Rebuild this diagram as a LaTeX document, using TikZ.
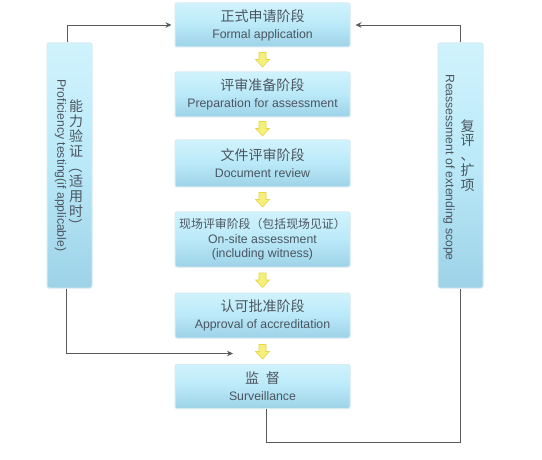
\documentclass[tikz,border=0pt]{standalone}
\usepackage{fontspec}
\usepackage{graphicx}
\setmainfont{Liberation Sans}
\newfontfamily\zh{Noto Sans CJK SC}
\usetikzlibrary{arrows.meta}
\definecolor{txt}{HTML}{4B5560}
\definecolor{boxtop}{HTML}{D0F3FD}
\definecolor{boxmid}{HTML}{BAE9F8}
\definecolor{boxbot}{HTML}{9DD2E7}
\definecolor{boxedge}{HTML}{D5EBF2}
\definecolor{lne}{HTML}{5A5A5A}
\definecolor{yfill}{HTML}{F6F07A}
\definecolor{yedge}{HTML}{E3D64A}
\begin{document}
\begin{tikzpicture}[x=1pt,y=-1pt,
  box/.style={draw=boxedge, line width=1pt, rounded corners=2pt,
    top color=boxtop, bottom color=boxbot, middle color=boxmid,
    text=txt, align=center, inner sep=0pt,
    font=\fontsize{12.3}{17}\selectfont},
  hbox/.style={box, minimum width=175pt},
  vbox/.style={box, minimum width=45pt, minimum height=245pt},
  zhl/.style={text=txt, align=center, inner sep=0pt, font=\zh\fontsize{14}{14.9}\selectfont},
  enl/.style={text=txt, inner sep=0pt, rotate=-90, font=\fontsize{12.2}{15}\selectfont},
  conn/.style={draw=lne, line width=0.8pt},
  arr/.style={conn, -{Stealth[length=6pt,width=5.5pt]}},
  yarrow/.pic={\path[fill=yfill, draw=yedge, line width=0.6pt]
    (-3.5,-7) -- (3.5,-7) -- (3.5,0) -- (7,0) -- (0,7.5) -- (-7,0) -- (-3.5,0) -- cycle;}
]
\path[fill=white] (0,0) rectangle (542,460);
\useasboundingbox (0,0) rectangle (542,460);

\node[hbox, minimum height=44pt] (b1) at (262.5,25)
  {{\zh\fontsize{14}{17}\selectfont 正式申请阶段}\\Formal application};
\node[hbox, minimum height=45pt] (b2) at (262.5,94.5)
  {{\zh\fontsize{14}{17}\selectfont 评审准备阶段}\\Preparation for assessment};
\node[hbox, minimum height=47pt] (b3) at (262.5,163.5)
  {{\zh\fontsize{14}{17}\selectfont 文件评审阶段}\\Document review};
\node[hbox, minimum height=55pt] (b4) at (262.5,239.5)
  {{\zh\fontsize{11.9}{17}\selectfont 现场评审阶段（包括现场见证）}\\[-2.5pt]On-site assessment\\[-2.5pt](including witness)};
\node[hbox, minimum height=45pt] (b5) at (262.5,315.5)
  {{\zh\fontsize{14}{17}\selectfont 认可批准阶段}\\Approval of accreditation};
\node[hbox, minimum height=44pt] (b6) at (262.5,386.5)
  {{\zh\fontsize{14}{17}\selectfont 监\hspace{0.5em}督}\\Surveillance};

\node[vbox] (pt) at (69.5,165.5) {};
\node[zhl] (ptz) at ([xshift=6.5pt,yshift=-1pt]pt.center)
  {能\\力\\验\\证\\\rotatebox[origin=c]{-90}{（}\\适\\用\\时\\\rotatebox[origin=c]{-90}{）}};
\node[enl] (pte) at ([xshift=-9pt]pt.center) {Proficiency testing(if applicable)};

\node[vbox] (ra) at (460.5,165.5) {};
\node[zhl] (raz) at ([xshift=7pt,yshift=10pt]ra.center) {复\\评\\、\\扩\\项};
\node[enl] (rae) at ([xshift=-11.5pt,yshift=-2pt]ra.center) {Reassessment of extending scope};

\pic at (262.5,59.5) {yarrow};
\pic at (262.5,128.5) {yarrow};
\pic at (262.5,199.5) {yarrow};
\pic at (262.5,280) {yarrow};
\pic at (262.5,351.5) {yarrow};

\draw[arr, shorten >=3pt] ([xshift=-2.5pt]pt.north) |- (b1.west);
\draw[arr, shorten >=5pt] (ra.north) |- (b1.east);
\coordinate (m) at (233,353.5);
\draw[arr] ([xshift=-3pt]pt.south) |- (m);
\coordinate (lc) at (266,442);
\draw[conn] ([xshift=3.5pt]b6.south) -- (lc) -| (ra.south);
\end{tikzpicture}
\end{document}
